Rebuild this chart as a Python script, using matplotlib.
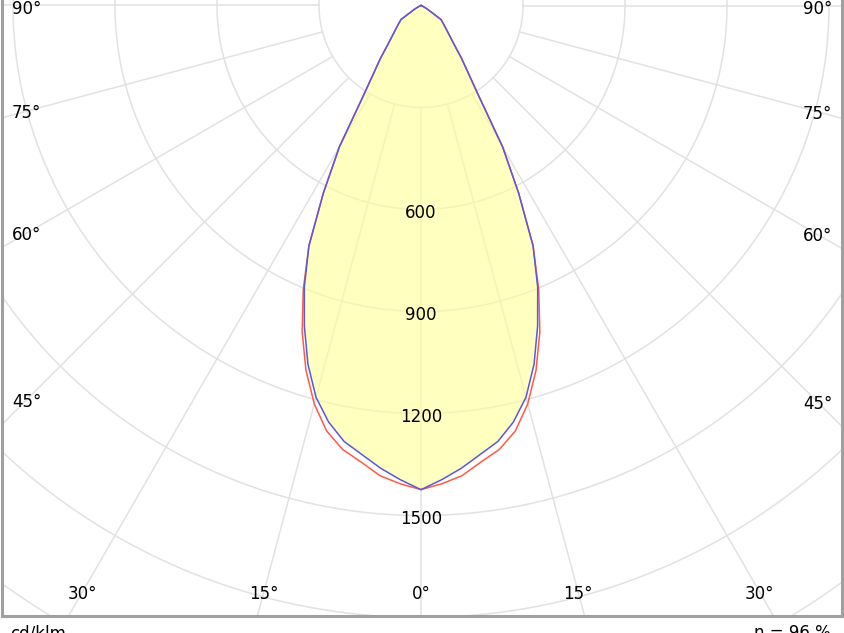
import numpy as np
import matplotlib.pyplot as plt

# luminous intensity (cd/klm) against angle from nadir, half curve
angles = [0, 2.5, 5, 7.5, 10, 12.5, 15, 17.5, 20, 22.5, 25, 27.5, 30, 32.5, 35,
          37.5, 40, 45, 50, 55, 60, 65, 70, 75, 80, 85, 90]
c0_c180 = [1424, 1408, 1388, 1354, 1326, 1282, 1213, 1125, 1022, 905, 780, 622, 480,
           318, 242, 196, 155, 112, 88, 72, 22, 8, 3, 0, 0, 0, 0]
c90_c270 = [1424, 1396, 1366, 1332, 1302, 1255, 1193, 1106, 1003, 897, 780, 622, 480,
            318, 242, 196, 155, 112, 88, 72, 22, 8, 3, 0, 0, 0, 0]

ring_values = [300, 600, 900, 1200, 1500, 1800, 2100, 2400]
ring_labels = [600, 900, 1200, 1500]
spoke_angles = list(range(0, 360, 15))
left_labels = [90, 75, 60, 45]
bottom_labels = [30, 15, 0, 15, 30]
bottom_sides = [-1, -1, 1, 1, 1]
right_labels = [45, 60, 75, 90]
unit_text = "cd/klm"
eta_text = "η = 96 %"

plt.rcParams['font.family'] = ['DejaVu Sans']

W, H = 844, 633
k = 0.34            # px per cd/klm
cx, cy = 421, 5.5   # pole position in px (from top-left)

fig = plt.figure(figsize=(W / 100, H / 100), dpi=100)
ax = fig.add_axes([2 / W, 17 / H, 840 / W, 616 / H])
x0, x1 = -(cx - 2) / k, (842 - cx) / k
y0, y1 = -(616 - cy) / k, cy / k
ax.set_xlim(x0, x1)
ax.set_ylim(y0, y1)
ax.set_xticks([])
ax.set_yticks([])
for side in ['left', 'right', 'bottom']:
    ax.spines[side].set_color('#a0a0a0')
    ax.spines[side].set_linewidth(2.2)
ax.spines['top'].set_visible(False)

grid_col = '#e2e2e2'
t = np.linspace(0, 2 * np.pi, 721)
for r in ring_values:
    ax.plot(r * np.cos(t), r * np.sin(t), color=grid_col, lw=1.1, zorder=1)
for a in spoke_angles:
    rad = np.radians(a)
    ax.plot([300 * np.sin(rad), 3000 * np.sin(rad)],
            [-300 * np.cos(rad), -3000 * np.cos(rad)], color=grid_col, lw=1.1, zorder=1)


def mirror(vals):
    th = np.radians(np.concatenate([-np.array(angles[::-1]), np.array(angles[1:])]))
    v = np.concatenate([np.array(vals[::-1]), np.array(vals[1:])])
    return v * np.sin(th), -v * np.cos(th)


xr, yr = mirror(c0_c180)
xb, yb = mirror(c90_c270)
ax.fill(xb, yb, color='#ffff99', alpha=0.62, lw=0, zorder=2)
ax.plot(xr, yr, color='#ff5a45', lw=1.1, zorder=3)
ax.plot(xb, yb, color='#5858e0', lw=1.1, zorder=4)

for v in ring_labels:
    ax.text(0, -v - 4 / k, str(v), ha='center', va='center', fontsize=12, zorder=5)

# angle labels sit where each spoke meets a rectangle inset from the frame
d = 24.5 / k


def label_pos(a, s):
    rad = np.radians(a)
    sx, sy = s * np.sin(rad), -np.cos(rad)
    ts = []
    if sx > 1e-9:
        ts.append((x1 - d) / sx)
    if sx < -1e-9:
        ts.append((x0 + d) / sx)
    if sy < -1e-9:
        ts.append((y0 + d) / sy)
    tt = min(ts)
    return tt * sx, min(tt * sy, -1 / k) - 2 / k


for a in left_labels:
    px, py = label_pos(a, -1)
    ax.text(px, py, f"{a}°", ha='center', va='center', fontsize=12, zorder=5)
for a, s in zip(bottom_labels, bottom_sides):
    px, py = label_pos(a, s)
    ax.text(px, py, f"{a}°", ha='center', va='center', fontsize=12, zorder=5)
for a in right_labels:
    px, py = label_pos(a, 1)
    ax.text(px, py, f"{a}°", ha='center', va='center', fontsize=12, zorder=5)

fig.text(10 / W, 1 - 624 / H, unit_text, ha='left', va='top', fontsize=12)
fig.text(831 / W, 1 - 624 / H, eta_text, ha='right', va='top', fontsize=12)

fig.savefig('out.png', dpi=100)
